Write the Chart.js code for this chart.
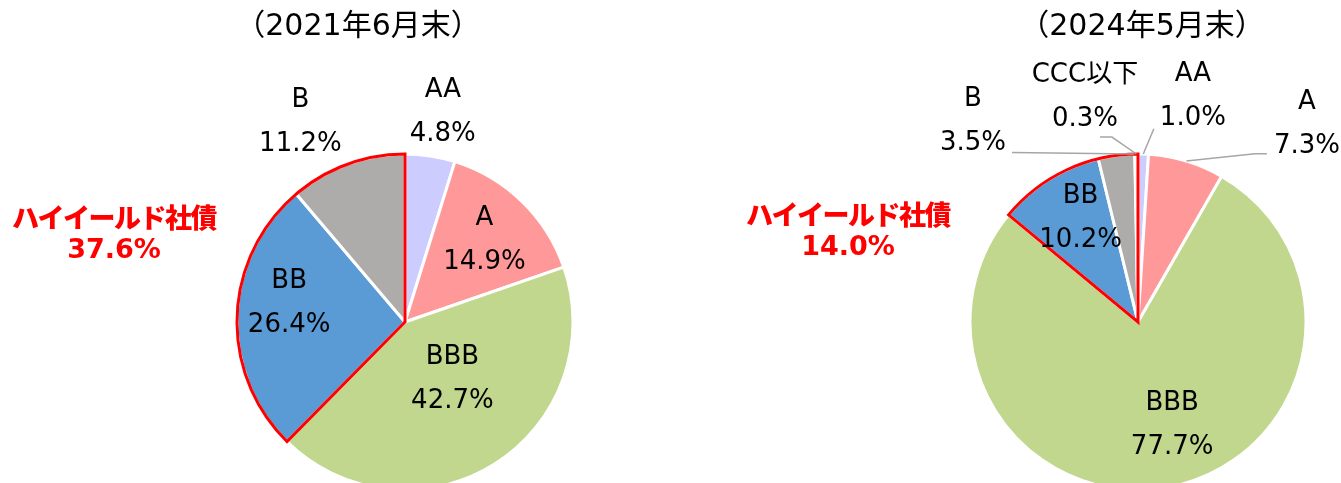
<!DOCTYPE html>
<html>
<head>
<meta charset="utf-8">
<script src="https://cdn.jsdelivr.net/npm/chart.js@4.4.0/dist/chart.umd.min.js"></script>
<style>
  body { margin: 0; background: #fff; width: 1341px; height: 483px; overflow: hidden; position: relative; }
  canvas { position: absolute; top: 0; }
</style>
</head>
<body>
<canvas id="pie2021" width="670" height="483" style="left:0"></canvas>
<canvas id="pie2024" width="671" height="483" style="left:670px"></canvas>
<script>
// Data
const categories2021 = ["AA", "A", "BBB", "BB", "B"];
const values2021 = [4.8, 14.9, 42.7, 26.4, 11.2];
const categories2024 = ["AA", "A", "BBB", "BB", "B", "CCC以下"];
const values2024 = [1.0, 7.3, 77.7, 10.2, 3.5, 0.3];
const titles = ["（2021年6月末）", "（2024年5月末）"];
const highYieldName = "ハイイールド社債";
const highYieldFrom = "BB"; // BB and below = high yield

// Colours per rating
const ratingColors = {
  AA: "#CCCCFF",
  A: "#FF9999",
  BBB: "#C0D78D",
  BB: "#5B9BD5",
  B: "#AEABAB",
  "CCC以下": "#AEABAB",
};

const LABEL_FONT = "26px 'DejaVu Sans', 'Noto Sans CJK JP', sans-serif";
const TITLE_FONT = "30px 'DejaVu Sans', 'Noto Sans CJK JP', sans-serif";
const RED_FONT = "900 27px 'DejaVu Sans', 'Noto Sans CJK JP', sans-serif";

// Draws the red high-yield outline, data labels, leader lines, titles
const pieDecor = {
  id: "pieDecor",
  afterDraw(chart, args, opts) {
    const ctx = chart.ctx;
    const arcs = chart.getDatasetMeta(0).data;
    const labels = chart.data.labels;
    const values = chart.data.datasets[0].data;
    const cx = arcs[0].x;
    const cy = arcs[0].y;
    const r = arcs[0].outerRadius;
    const hy = labels.indexOf(highYieldFrom);

    // red outline around high-yield slices
    ctx.save();
    ctx.beginPath();
    ctx.moveTo(cx, cy);
    ctx.arc(cx, cy, r, arcs[hy].startAngle, arcs[arcs.length - 1].endAngle);
    ctx.closePath();
    ctx.strokeStyle = "#FF0000";
    ctx.lineWidth = 3;
    ctx.stroke();
    ctx.restore();

    // label positions from slice mid angle
    const pos = arcs.map((a, i) => {
      const p = opts.place[i];
      const mid = (a.startAngle + a.endAngle) / 2;
      return {
        x: cx + Math.cos(mid) * r * p[0] + p[1],
        y: cy + Math.sin(mid) * r * p[0] + p[2],
      };
    });

    // leader lines
    ctx.save();
    ctx.strokeStyle = "#A6A6A6";
    ctx.lineWidth = 1.5;
    (opts.leaders || []).forEach((l) => {
      const i = l.index;
      const a = arcs[i];
      const ang = a.startAngle + (a.endAngle - a.startAngle) * l.at;
      const ex = pos[i].x + l.end[0];
      const ey = pos[i].y + l.end[1];
      ctx.beginPath();
      ctx.moveTo(cx + Math.cos(ang) * r, cy + Math.sin(ang) * r);
      ctx.lineTo(ex + l.elbow, ey);
      ctx.lineTo(ex, ey);
      ctx.stroke();
    });
    ctx.restore();

    // data labels
    ctx.save();
    ctx.font = LABEL_FONT;
    ctx.fillStyle = "#000";
    ctx.textAlign = "center";
    ctx.textBaseline = "middle";
    labels.forEach((lab, i) => {
      ctx.fillText(lab, pos[i].x, pos[i].y - 22);
      ctx.fillText(values[i].toFixed(1) + "%", pos[i].x, pos[i].y + 22);
    });

    // title
    ctx.font = TITLE_FONT;
    ctx.fillText(opts.title, opts.titleX, 27);

    // high-yield total
    let hyTotal = 0;
    for (let i = hy; i < values.length; i++) hyTotal += values[i];
    ctx.font = RED_FONT;
    ctx.fillStyle = "#FF0000";
    ctx.letterSpacing = "-1.5px";
    ctx.fillText(highYieldName, opts.redX, opts.redY);
    ctx.letterSpacing = "0px";
    ctx.fillText(hyTotal.toFixed(1) + "%", opts.redX, opts.redY + 30);
    ctx.restore();
  },
};

function makePie(id, labels, values, padLeft, decor) {
  return new Chart(document.getElementById(id), {
    type: "pie",
    data: {
      labels: labels,
      datasets: [
        {
          data: values,
          backgroundColor: labels.map((l) => ratingColors[l]),
          borderColor: "#FFFFFF",
          borderWidth: 3,
          hoverOffset: 0,
        },
      ],
    },
    options: {
      responsive: false,
      animation: false,
      events: [],
      radius: 168,
      layout: { padding: { left: padLeft, top: 161, right: 0, bottom: 0 } },
      plugins: {
        legend: { display: false },
        tooltip: { enabled: false },
        pieDecor: decor,
      },
    },
    plugins: [pieDecor],
  });
}

makePie("pie2021", categories2021, values2021, 140, {
  title: titles[0],
  titleX: 358,
  redX: 114,
  redY: 221,
  // [radius factor, dx, dy]
  place: [
    [1.26, 6, 0],
    [0.68, 0, 0],
    [0.44, 8, -5],
    [0.69, 0, -14],
    [1.34, -27, 12],
  ],
});

makePie("pie2024", categories2024, values2024, 265, {
  title: titles[1],
  titleX: 472,
  redX: 178,
  redY: 218,
  place: [
    [1.3, 48, -7],
    [1.3, 106, 11],
    [0.64, 15, -3],
    [0.7, 5, -4],
    [1.3, -137, 16],
    [1.3, -51, -6],
  ],
  leaders: [
    { index: 0, at: 0.5, end: [-39, 32], elbow: 0 },
    { index: 1, at: 0.5, end: [-40, 30], elbow: -12 },
    { index: 4, at: 0.98, end: [39, 31], elbow: 0 },
    { index: 5, at: 0.5, end: [15, 39.5], elbow: 12 },
  ],
});
</script>
</body>
</html>
